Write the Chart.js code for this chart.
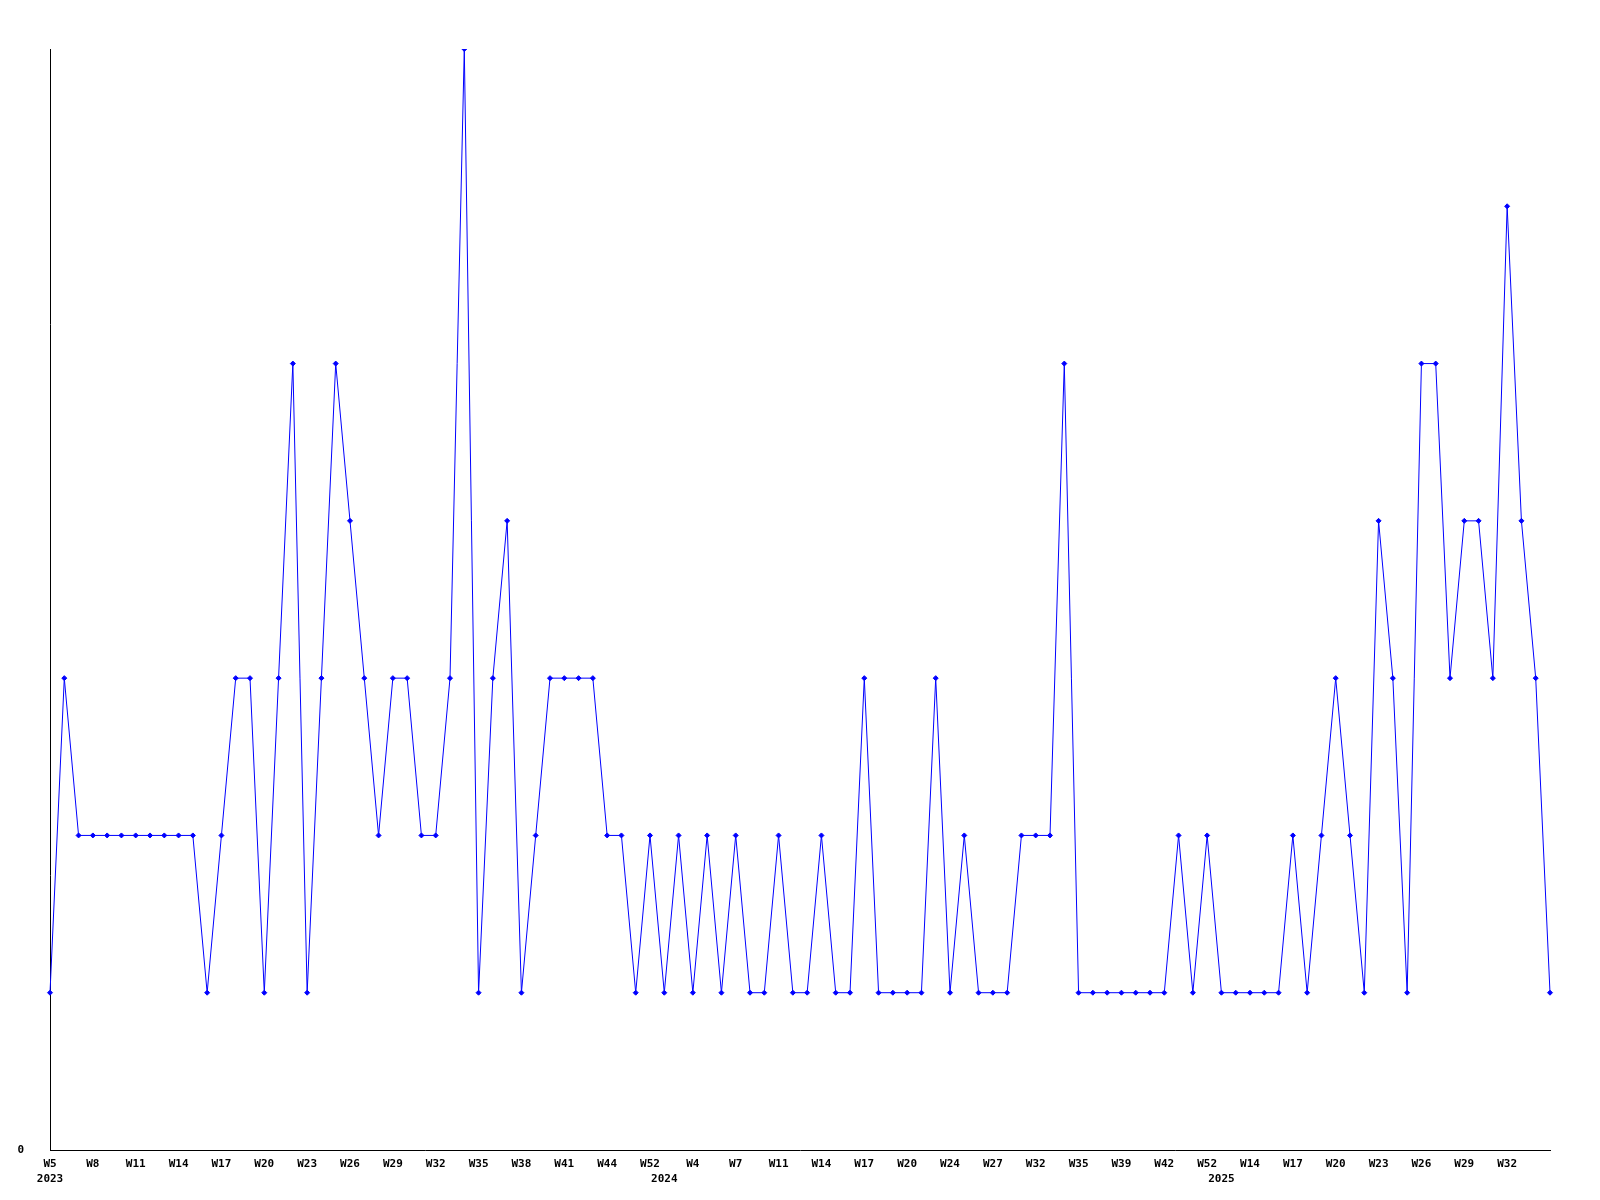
<!DOCTYPE html>
<html>
<head>
<meta charset="utf-8">
<title>Weekly count</title>
<script src="https://cdn.jsdelivr.net/npm/chart.js@4"></script>
<style>
    html, body { margin: 0; padding: 0; background: #fff; overflow: hidden; }
    canvas { display: block; }
</style>
</head>
<body>
<canvas id="chart" width="1600" height="1200"></canvas>
<script>
// Weekly values, one per data point
const counts = [
    1, 3, 2, 2, 2, 2, 2, 2, 2, 2, 2, 1, 2, 3, 3, 1, 3, 5, 1, 3,
    5, 4, 3, 2, 3, 3, 2, 2, 3, 7, 1, 3, 4, 1, 2, 3, 3, 3, 3, 2,
    2, 1, 2, 1, 2, 1, 2, 1, 2, 1, 1, 2, 1, 1, 2, 1, 1, 3, 1, 1,
    1, 1, 3, 1, 2, 1, 1, 1, 2, 2, 2, 5, 1, 1, 1, 1, 1, 1, 1, 2,
    1, 2, 1, 1, 1, 1, 1, 2, 1, 2, 3, 2, 1, 4, 3, 1, 5, 5, 3, 4,
    4, 3, 6, 4, 3, 1
];

// Week labels shown on every third point
const weekTicks = [
    'W5', 'W8', 'W11', 'W14', 'W17', 'W20', 'W23', 'W26', 'W29', 'W32',
    'W35', 'W38', 'W41', 'W44', 'W52', 'W4', 'W7', 'W11', 'W14', 'W17',
    'W20', 'W24', 'W27', 'W32', 'W35', 'W39', 'W42', 'W52', 'W14', 'W17',
    'W20', 'W23', 'W26', 'W29', 'W32'
];

// Year labels and the point where each year starts
const years = ['2023', '2024', '2025'];
const yearStart = [0, 43, 82];

const TICK_EVERY = 3;

// Tick text for a point: week line plus optional year line
function tickText(i) {
    const week = i % TICK_EVERY === 0 ? weekTicks[i / TICK_EVERY] : '';
    const y = yearStart.indexOf(i);
    return y >= 0 ? [week, years[y]] : week;
}

const tickFont = { family: '"DejaVu Sans Mono", monospace', size: 11, weight: 'bold', lineHeight: '15px' };

new Chart(document.getElementById('chart'), {
    type: 'line',
    data: {
        labels: counts.map((v, i) => 'p' + i),
        datasets: [{
            data: counts,
            borderColor: '#0000ff',
            backgroundColor: '#0000ff',
            borderWidth: 1,
            pointStyle: 'rectRot',
            pointRadius: 2.5,
            pointBorderWidth: 1,
            tension: 0,
            fill: false
        }]
    },
    options: {
        responsive: false,
        animation: false,
        layout: { padding: { top: 49, right: 50, left: 0, bottom: 0 } },
        plugins: {
            legend: { display: false },
            tooltip: { enabled: false }
        },
        scales: {
            x: {
                offset: false,
                grid: { display: false, drawTicks: false },
                border: { display: true, color: '#000', width: 1 },
                ticks: {
                    autoSkip: false,
                    maxRotation: 0,
                    minRotation: 0,
                    padding: 7,
                    color: '#000',
                    font: tickFont,
                    callback: (value, index) => tickText(index)
                },
                afterFit: scale => { scale.height = 50; }
            },
            y: {
                min: 0,
                max: 7,
                grid: { display: false, drawTicks: false },
                border: { display: true, color: '#000', width: 1 },
                ticks: {
                    stepSize: 1,
                    padding: 26,
                    color: '#000',
                    font: tickFont,
                    callback: value => value === 0 ? '0' : ''
                },
                afterFit: scale => { scale.width = 50; }
            }
        }
    }
});
</script>
</body>
</html>
